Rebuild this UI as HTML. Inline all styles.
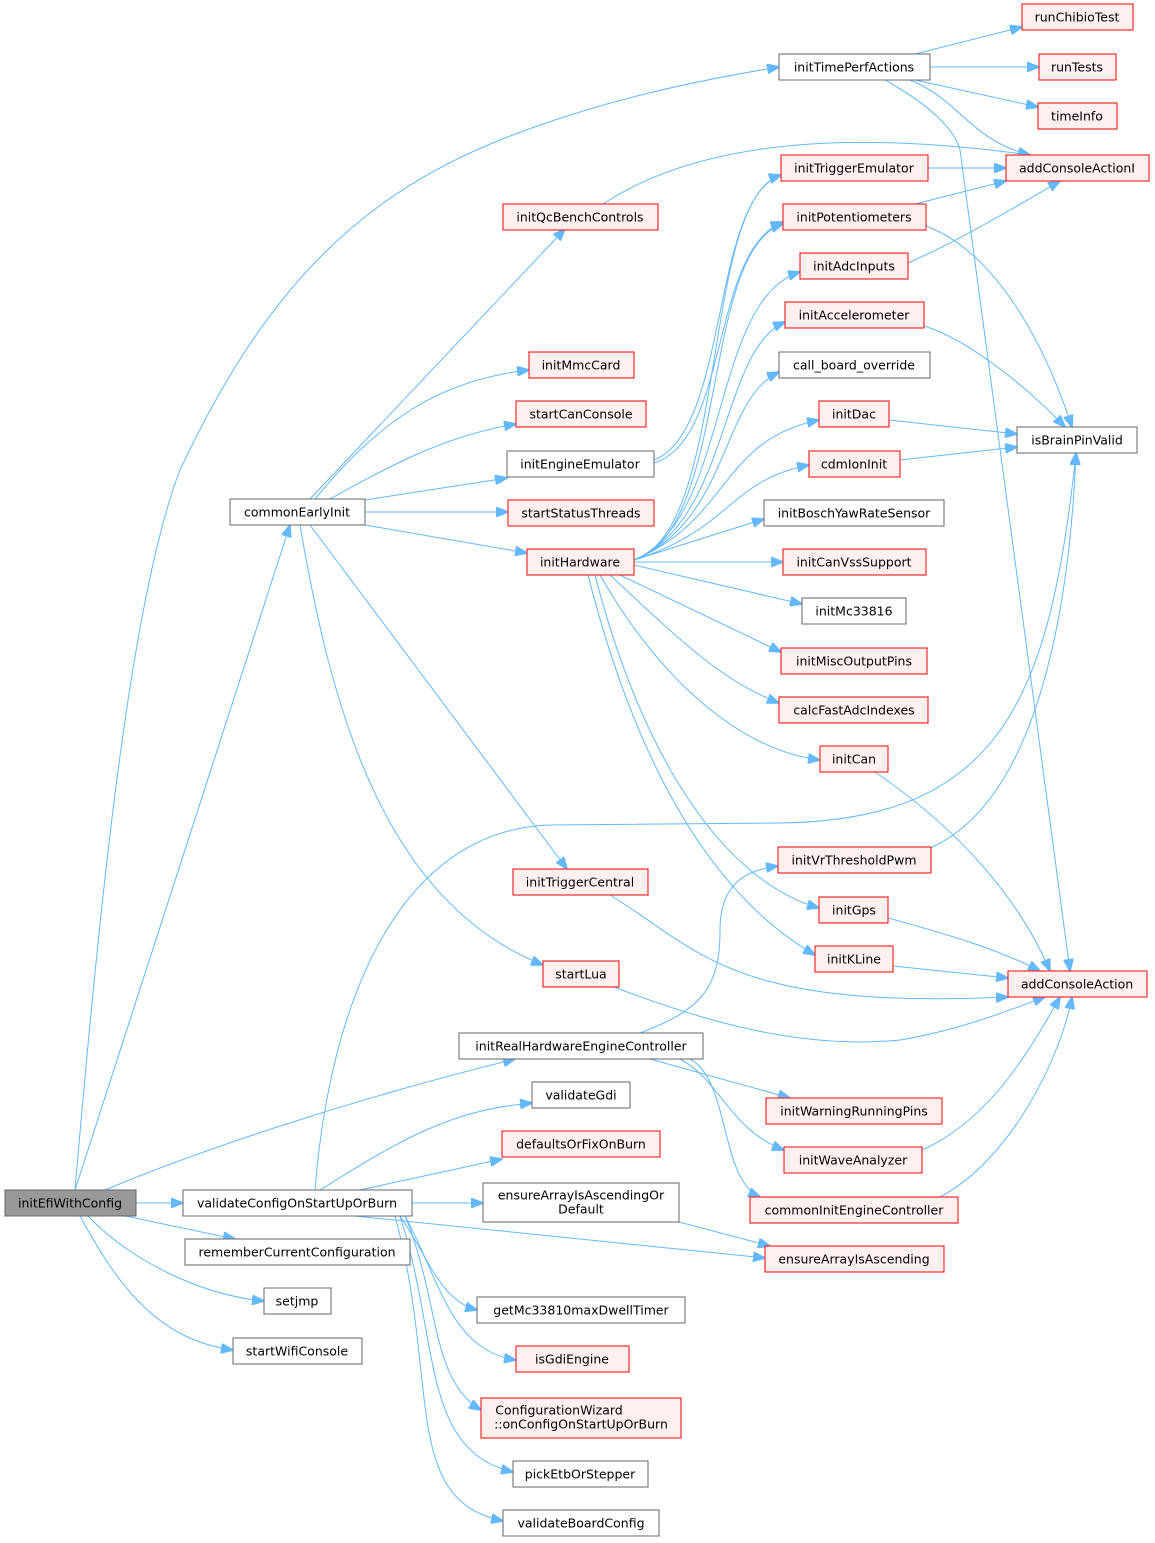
<!DOCTYPE html>
<html><head><meta charset="utf-8"><style>
html,body{margin:0;padding:0;background:#fff;}
svg{display:block;font-family:"DejaVu Sans","Liberation Sans",sans-serif;font-size:12.5px;}
.b rect{fill:#fff;stroke:#666;stroke-width:1}
.r rect{fill:#fff0f0;stroke:#ff0000;stroke-width:1}
.g rect{fill:#999;stroke:#666;stroke-width:1}
text{text-anchor:middle;dominant-baseline:central;fill:#000}
path{fill:none;stroke:#63b8ff;stroke-width:1;marker-end:url(#a)}
</style></head><body>
<svg width="1155" height="1543" viewBox="0 0 1155 1543">
<defs><marker id="a" markerWidth="13" markerHeight="10" refX="12" refY="5" orient="auto" markerUnits="userSpaceOnUse"><polygon points="0,0 13,5 0,10" fill="#63b8ff" stroke="#63b8ff"/></marker></defs>

<path d="M75,1190 C100,900 130,600 180,470 C260,300 350,200 500,140 C600,100 700,80 779,67"/>
<path d="M75,1190 L290,525"/>
<path d="M136,1203 L183,1203"/>
<path d="M125,1216 L235,1239"/>
<path d="M88,1216 C130,1260 200,1295 264,1301"/>
<path d="M80,1216 C120,1290 160,1340 233,1350"/>
<path d="M105,1190 C200,1150 350,1100 515,1059"/>

<path d="M310,499 L565,229"/>
<path d="M315,499 C380,420 440,380 529,370"/>
<path d="M330,499 C400,460 450,435 516,424"/>
<path d="M365,500 L507,478"/>
<path d="M365,512 L508,512"/>
<path d="M365,525 L527,553"/>
<path d="M310,525 L567,869"/>
<path d="M300,525 C330,700 380,900 543,965"/>

<path d="M603,204 C700,140 850,130 1030,155"/>
<path d="M915,54 L1022,27"/>
<path d="M930,67 L1039,67"/>
<path d="M915,80 L1038,107"/>
<path d="M910,80 C960,100 970,140 1030,155"/>
<path d="M885,80 C930,105 955,130 960,150 L1070,971"/>
<path d="M928,168 L1006,168"/>
<path d="M915,204 L1006,181"/>
<path d="M926,226 C990,250 1040,330 1072,427"/>
<path d="M908,263 C960,240 1010,210 1060,181"/>
<path d="M924,326 C970,340 1030,390 1065,427"/>
<path d="M889,420 L1017,434"/>
<path d="M900,460 L1017,447"/>

<path d="M634,560 C730,530 700,200 781,175"/>
<path d="M634,560 C730,530 700,250 783,224"/>
<path d="M634,560 C730,520 710,300 800,272"/>
<path d="M634,560 C730,520 720,350 785,322"/>
<path d="M634,560 C730,520 720,400 779,372"/>
<path d="M634,560 C730,520 720,440 819,420"/>
<path d="M634,560 C730,530 730,480 809,465"/>
<path d="M634,560 L764,519"/>
<path d="M634,562 L783,562"/>
<path d="M634,565 L802,604"/>
<path d="M620,575 L781,652"/>
<path d="M610,575 C680,640 720,680 779,703"/>
<path d="M600,575 C660,680 740,750 820,760"/>
<path d="M595,575 C640,750 720,880 819,908"/>
<path d="M588,575 C640,780 720,900 815,955"/>
<path d="M654,460 C730,430 710,200 781,175"/>
<path d="M654,463 C730,440 710,250 783,222"/>

<path d="M875,772 C960,830 1020,900 1050,971"/>
<path d="M930,848 C1040,800 1070,600 1076,453"/>
<path d="M888,918 C950,935 1000,950 1040,971"/>
<path d="M893,966 L1008,978"/>
<path d="M610,895 C700,950 730,1010 1008,997"/>
<path d="M614,987 C700,1020 800,1050 900,1040 C960,1030 1010,1010 1045,997"/>
<path d="M640,1033 C700,1010 720,990 720,930 C720,880 750,870 778,866"/>
<path d="M650,1059 L790,1098"/>
<path d="M680,1059 C720,1080 730,1130 784,1150"/>
<path d="M690,1059 C730,1080 720,1180 760,1197"/>
<path d="M922,1150 C990,1120 1030,1050 1060,997"/>
<path d="M940,1197 C1010,1160 1060,1060 1072,997"/>

<path d="M315,1190 C330,1000 400,830 550,825 L780,823 C1000,820 1050,700 1076,453"/>
<path d="M320,1190 C400,1140 450,1110 532,1103"/>
<path d="M360,1190 L502,1159"/>
<path d="M412,1203 L483,1203"/>
<path d="M355,1216 L765,1258"/>
<path d="M400,1216 C430,1260 440,1300 477,1310"/>
<path d="M405,1216 C440,1280 450,1350 516,1360"/>
<path d="M405,1216 C440,1300 430,1380 481,1410"/>
<path d="M400,1216 C440,1340 420,1450 513,1472"/>
<path d="M395,1216 C440,1380 400,1500 503,1521"/>
<path d="M679,1222 L770,1246"/>

<g class="g"><rect x="5" y="1190" width="131" height="26"/><text x="70" y="1203">initEfiWithConfig</text></g>
<g class="b"><rect x="183" y="1190" width="229" height="26"/><text x="297" y="1203">validateConfigOnStartUpOrBurn</text></g>
<g class="b"><rect x="185" y="1239" width="225" height="26"/><text x="297" y="1252">rememberCurrentConfiguration</text></g>
<g class="b"><rect x="264" y="1288" width="67" height="26"/><text x="297" y="1301">setjmp</text></g>
<g class="b"><rect x="233" y="1338" width="129" height="26"/><text x="297" y="1351">startWifiConsole</text></g>
<g class="b"><rect x="230" y="499" width="135" height="26"/><text x="297" y="512">commonEarlyInit</text></g>

<g class="b"><rect x="779" y="54" width="151" height="26"/><text x="854" y="67">initTimePerfActions</text></g>
<g class="r"><rect x="1022" y="4" width="111" height="26"/><text x="1077" y="17">runChibioTest</text></g>
<g class="r"><rect x="1039" y="54" width="77" height="26"/><text x="1077" y="67">runTests</text></g>
<g class="r"><rect x="1038" y="103" width="79" height="26"/><text x="1077" y="116">timeInfo</text></g>
<g class="r"><rect x="1006" y="155" width="143" height="26"/><text x="1077" y="168">addConsoleActionI</text></g>
<g class="b"><rect x="1017" y="427" width="120" height="26"/><text x="1077" y="440">isBrainPinValid</text></g>
<g class="r"><rect x="1008" y="971" width="139" height="26"/><text x="1077" y="984">addConsoleAction</text></g>

<g class="r"><rect x="503" y="204" width="155" height="26"/><text x="580" y="217">initQcBenchControls</text></g>
<g class="r"><rect x="529" y="352" width="105" height="26"/><text x="581" y="365">initMmcCard</text></g>
<g class="r"><rect x="516" y="401" width="130" height="26"/><text x="581" y="414">startCanConsole</text></g>
<g class="b"><rect x="507" y="451" width="147" height="26"/><text x="580" y="464">initEngineEmulator</text></g>
<g class="r"><rect x="508" y="500" width="146" height="26"/><text x="581" y="513">startStatusThreads</text></g>
<g class="r"><rect x="527" y="549" width="107" height="26"/><text x="580" y="562">initHardware</text></g>
<g class="r"><rect x="513" y="869" width="135" height="26"/><text x="580" y="882">initTriggerCentral</text></g>
<g class="r"><rect x="543" y="961" width="76" height="26"/><text x="581" y="974">startLua</text></g>
<g class="b"><rect x="459" y="1033" width="244" height="26"/><text x="581" y="1046">initRealHardwareEngineController</text></g>
<g class="b"><rect x="532" y="1082" width="98" height="26"/><text x="581" y="1095">validateGdi</text></g>
<g class="r"><rect x="502" y="1131" width="158" height="26"/><text x="581" y="1144">defaultsOrFixOnBurn</text></g>
<g class="b"><rect x="483" y="1183" width="196" height="39"/><text x="581" y="1195">ensureArrayIsAscendingOr</text><text x="581" y="1209">Default</text></g>
<g class="b"><rect x="477" y="1297" width="208" height="26"/><text x="581" y="1310">getMc33810maxDwellTimer</text></g>
<g class="r"><rect x="516" y="1346" width="113" height="26"/><text x="572" y="1359">isGdiEngine</text></g>
<g class="r"><rect x="481" y="1398" width="200" height="40"/><text x="559" y="1410">ConfigurationWizard</text><text x="581" y="1424">::onConfigOnStartUpOrBurn</text></g>
<g class="b"><rect x="513" y="1461" width="135" height="26"/><text x="580" y="1474">pickEtbOrStepper</text></g>
<g class="b"><rect x="503" y="1510" width="156" height="26"/><text x="581" y="1523">validateBoardConfig</text></g>

<g class="r"><rect x="781" y="155" width="147" height="26"/><text x="854" y="168">initTriggerEmulator</text></g>
<g class="r"><rect x="783" y="204" width="143" height="26"/><text x="854" y="217">initPotentiometers</text></g>
<g class="r"><rect x="800" y="253" width="108" height="26"/><text x="854" y="266">initAdcInputs</text></g>
<g class="r"><rect x="785" y="302" width="139" height="26"/><text x="854" y="315">initAccelerometer</text></g>
<g class="b"><rect x="779" y="352" width="151" height="26"/><text x="854" y="365">call_board_override</text></g>
<g class="r"><rect x="819" y="401" width="70" height="26"/><text x="854" y="414">initDac</text></g>
<g class="r"><rect x="809" y="451" width="91" height="26"/><text x="854" y="464">cdmIonInit</text></g>
<g class="b"><rect x="764" y="500" width="180" height="26"/><text x="854" y="513">initBoschYawRateSensor</text></g>
<g class="r"><rect x="783" y="549" width="143" height="26"/><text x="854" y="562">initCanVssSupport</text></g>
<g class="b"><rect x="802" y="598" width="104" height="26"/><text x="854" y="611">initMc33816</text></g>
<g class="r"><rect x="781" y="648" width="146" height="26"/><text x="854" y="661">initMiscOutputPins</text></g>
<g class="r"><rect x="779" y="697" width="149" height="26"/><text x="854" y="710">calcFastAdcIndexes</text></g>
<g class="r"><rect x="820" y="746" width="68" height="26"/><text x="854" y="759">initCan</text></g>
<g class="r"><rect x="778" y="847" width="153" height="26"/><text x="854" y="860">initVrThresholdPwm</text></g>
<g class="r"><rect x="819" y="897" width="69" height="26"/><text x="854" y="910">initGps</text></g>
<g class="r"><rect x="815" y="946" width="78" height="26"/><text x="854" y="959">initKLine</text></g>
<g class="r"><rect x="766" y="1098" width="176" height="26"/><text x="854" y="1111">initWarningRunningPins</text></g>
<g class="r"><rect x="784" y="1147" width="138" height="26"/><text x="853" y="1160">initWaveAnalyzer</text></g>
<g class="r"><rect x="750" y="1197" width="208" height="26"/><text x="854" y="1210">commonInitEngineController</text></g>
<g class="r"><rect x="765" y="1246" width="179" height="26"/><text x="854" y="1259">ensureArrayIsAscending</text></g>
</svg>
</body></html>
